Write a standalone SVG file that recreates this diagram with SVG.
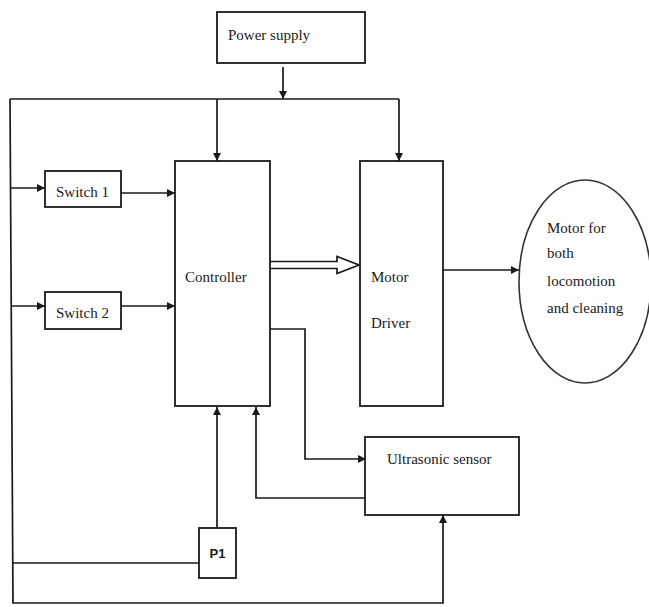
<svg xmlns="http://www.w3.org/2000/svg" width="649" height="607" viewBox="0 0 649 607">
<style>
.box{fill:#fff;stroke:#1a1a1a;stroke-width:1.8}
.ln{fill:none;stroke:#1a1a1a;stroke-width:1.7}
.t{font-family:'Liberation Serif','Times New Roman','DejaVu Serif',serif;font-size:15px;fill:#1a1a1a}
.b{font-family:'Liberation Sans',Arial,sans-serif;font-size:13px;font-weight:bold;fill:#1a1a1a}
</style>
<defs>
<marker id="ah" viewBox="0 0 10 10" refX="10" refY="5" markerWidth="8" markerHeight="8" markerUnits="userSpaceOnUse" orient="auto">
<path d="M0,0 L10,5 L0,10 z" fill="#1a1a1a"/>
</marker>
</defs>
<rect width="649" height="607" fill="#fff"/>
<g id="connectors">
<path class="ln" d="M283,67 V99" marker-end="url(#ah)"/>
<path class="ln" d="M10,99 H399"/>
<path class="ln" d="M10,99 L13,603 H443 V515" marker-end="url(#ah)"/>
<path class="ln" d="M217,99 V161" marker-end="url(#ah)"/>
<path class="ln" d="M399,99 V161" marker-end="url(#ah)"/>
<path class="ln" d="M11,188 H45" marker-end="url(#ah)"/>
<path class="ln" d="M11,306 H45" marker-end="url(#ah)"/>
<path class="ln" d="M121,193 H175" marker-end="url(#ah)"/>
<path class="ln" d="M121,306 H175" marker-end="url(#ah)"/>
<path class="ln" d="M270,261.5 H337 V256.5 L359,265 L337,273.5 V268.5 H270" fill="#fff"/>
<path class="ln" d="M443,270 H519" marker-end="url(#ah)"/>
<path class="ln" d="M270,329 H305 V459 H366" marker-end="url(#ah)"/>
<path class="ln" d="M365,498 H256 V407" marker-end="url(#ah)"/>
<path class="ln" d="M217,528 V407" marker-end="url(#ah)"/>
<path class="ln" d="M13,563 H199"/>
</g>
<g id="power-supply">
<rect class="box" x="217" y="12" width="148" height="51"/>
<text class="t" x="228" y="40">Power supply</text>
</g>
<g id="switch1">
<rect class="box" x="45" y="171" width="76" height="36"/>
<text class="t" x="56" y="197">Switch 1</text>
</g>
<g id="switch2">
<rect class="box" x="45" y="292" width="76" height="37"/>
<text class="t" x="56" y="318">Switch 2</text>
</g>
<g id="controller">
<rect class="box" x="175" y="161" width="95" height="245"/>
<text class="t" x="185" y="282">Controller</text>
</g>
<g id="motor-driver">
<rect class="box" x="360" y="161" width="83" height="245"/>
<text class="t" x="371" y="282">Motor</text>
<text class="t" x="371" y="328">Driver</text>
</g>
<g id="motor">
<ellipse cx="585" cy="281.5" rx="66" ry="101.5" fill="#fff" stroke="#333" stroke-width="1.6"/>
<text class="t" x="547" y="233">Motor for</text>
<text class="t" x="547" y="258">both</text>
<text class="t" x="547" y="286">locomotion</text>
<text class="t" x="547" y="313">and cleaning</text>
</g>
<g id="ultrasonic-sensor">
<rect class="box" x="365" y="437" width="154" height="78"/>
<text class="t" x="387" y="464">Ultrasonic sensor</text>
</g>
<g id="p1">
<rect class="box" x="199" y="528" width="37" height="50"/>
<text class="b" x="217.5" y="558" text-anchor="middle">P1</text>
</g>
</svg>
